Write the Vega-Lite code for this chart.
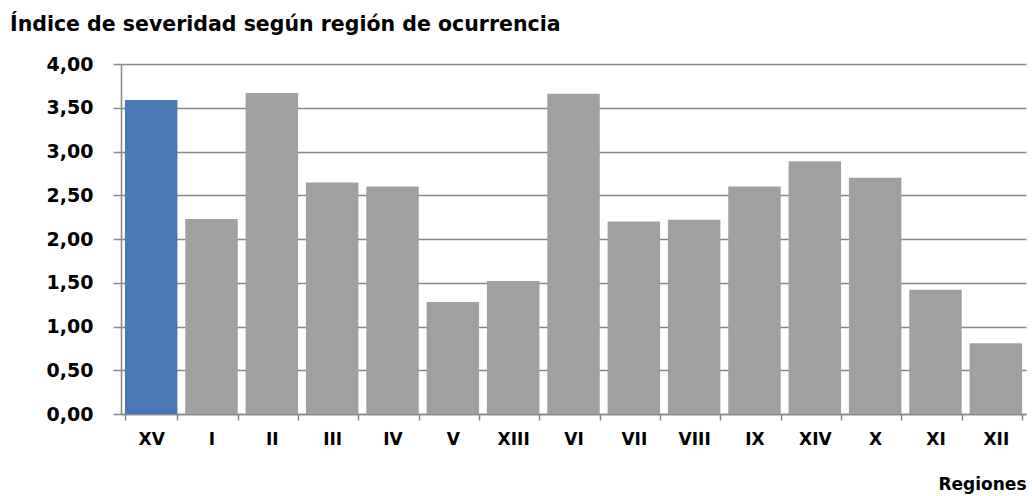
{
  "$schema": "https://vega.github.io/schema/vega-lite/v6.json",
  "autosize": {"type": "none"},
  "padding": {"left": 121, "top": 64, "right": 6, "bottom": 82},
  "width": 905,
  "height": 350,
  "background": "white",
  "title": {
    "text": "Índice de severidad según región de ocurrencia",
    "anchor": "start",
    "frame": "group",
    "dx": -111,
    "offset": 20,
    "font": "DejaVu Sans",
    "fontSize": 20.5,
    "fontWeight": "bold",
    "color": "#000000"
  },
  "data": {
    "values": [
      {"region": "XV", "indice": 3.59, "grupo": "destacado"},
      {"region": "I", "indice": 2.23, "grupo": "otro"},
      {"region": "II", "indice": 3.67, "grupo": "otro"},
      {"region": "III", "indice": 2.645, "grupo": "otro"},
      {"region": "IV", "indice": 2.6, "grupo": "otro"},
      {"region": "V", "indice": 1.28, "grupo": "otro"},
      {"region": "XIII", "indice": 1.52, "grupo": "otro"},
      {"region": "VI", "indice": 3.66, "grupo": "otro"},
      {"region": "VII", "indice": 2.2, "grupo": "otro"},
      {"region": "VIII", "indice": 2.22, "grupo": "otro"},
      {"region": "IX", "indice": 2.6, "grupo": "otro"},
      {"region": "XIV", "indice": 2.89, "grupo": "otro"},
      {"region": "X", "indice": 2.7, "grupo": "otro"},
      {"region": "XI", "indice": 1.42, "grupo": "otro"},
      {"region": "XII", "indice": 0.81, "grupo": "otro"}
    ]
  },
  "mark": {"type": "bar"},
  "encoding": {
    "x": {
      "field": "region",
      "type": "nominal",
      "sort": null,
      "scale": {"paddingInner": 0.13, "paddingOuter": 0.065},
      "axis": {
        "title": "Regiones",
        "titleAnchor": "end",
        "titleAlign": "right",
        "titleFont": "DejaVu Sans",
        "titleFontSize": 17,
        "titleFontWeight": "bold",
        "titleColor": "#000000",
        "titlePadding": 29,
        "labelAngle": 0,
        "labelFont": "DejaVu Sans",
        "labelFontSize": 17,
        "labelFontWeight": "bold",
        "labelColor": "#000000",
        "labelPadding": 11,
        "tickBand": "extent",
        "tickSize": 6,
        "tickColor": "#868686",
        "tickWidth": 1.5,
        "domainColor": "#868686",
        "domainWidth": 1.5,
        "grid": false
      }
    },
    "y": {
      "field": "indice",
      "type": "quantitative",
      "scale": {"domain": [0, 4], "nice": false},
      "axis": {
        "title": null,
        "values": [0, 0.5, 1, 1.5, 2, 2.5, 3, 3.5, 4],
        "labelExpr": "replace(format(datum.value, '.2f'), '.', ',')",
        "labelFont": "DejaVu Sans",
        "labelFontSize": 19,
        "labelFontWeight": "bold",
        "labelColor": "#000000",
        "labelPadding": 20,
        "tickSize": 8,
        "tickColor": "#868686",
        "tickWidth": 1.5,
        "domainColor": "#868686",
        "domainWidth": 1.5,
        "grid": true,
        "gridColor": "#868686",
        "gridWidth": 1.5
      }
    },
    "color": {
      "field": "grupo",
      "type": "nominal",
      "scale": {"domain": ["destacado", "otro"], "range": ["#4a78b4", "#a0a0a0"]},
      "legend": null
    }
  },
  "config": {
    "view": {"stroke": null},
    "axis": {"labelFlush": false}
  }
}
